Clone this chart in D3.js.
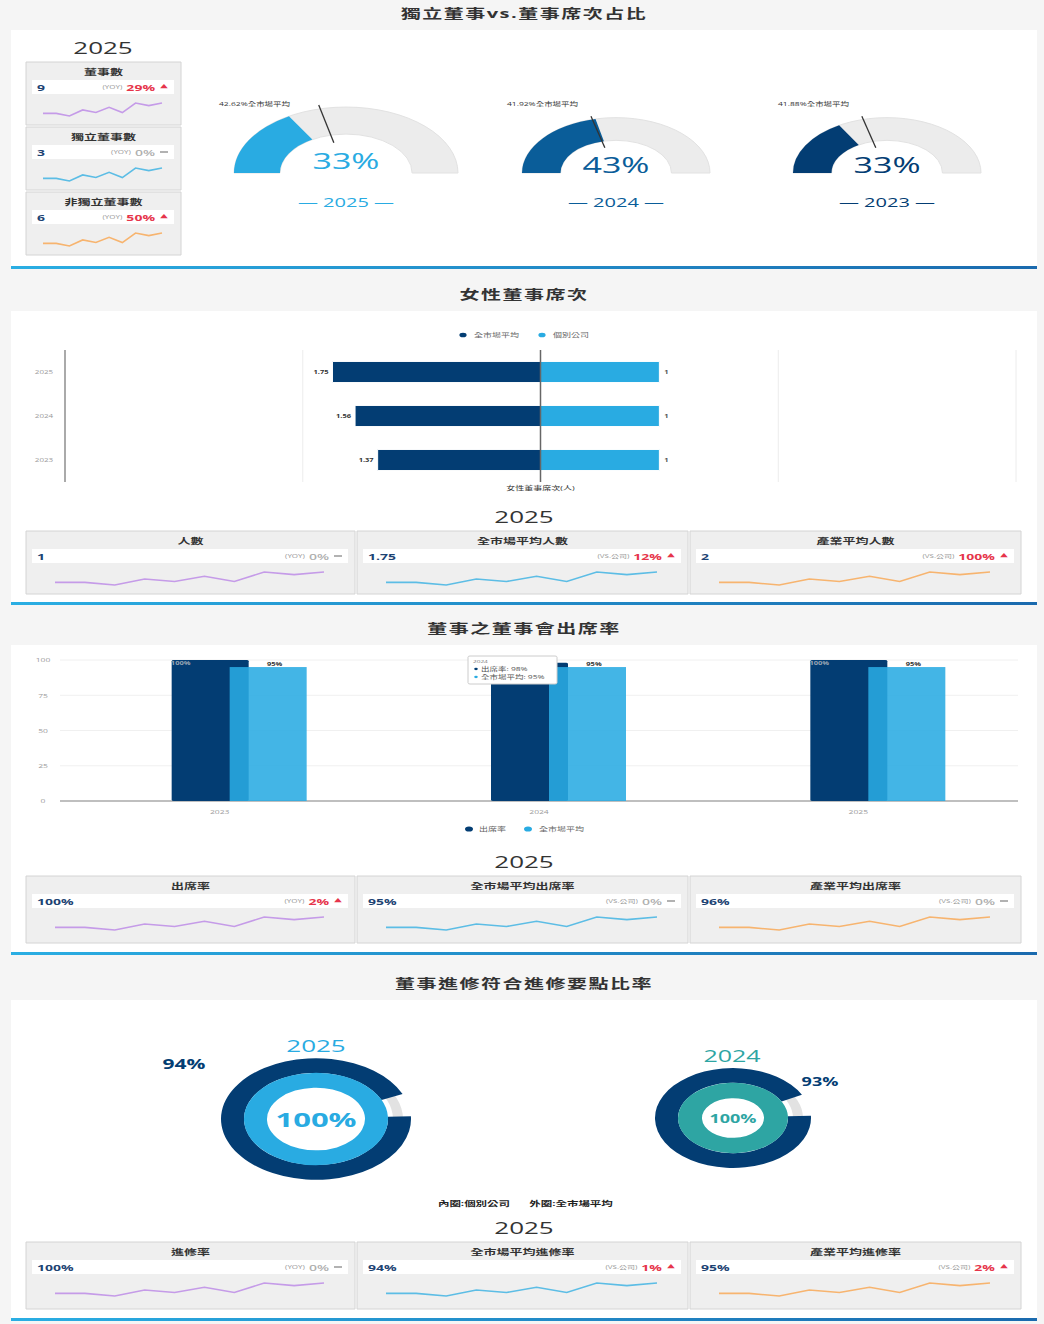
<!DOCTYPE html>
<html>
<head>
<meta charset="utf-8">
<script src="https://cdn.jsdelivr.net/npm/d3@7/dist/d3.min.js"></script>
<style>
  html, body { margin: 0; padding: 0; background: #f5f5f5; }
  svg { display: block; }
</style>
</head>
<body>
<svg id="board"></svg>
<script>
// ---- data ----
const sectionTitles = ['獨立董事vs.董事席次占比', '女性董事席次', '董事之董事會出席率', '董事進修符合進修要點比率']
const trend = [3, 3, 0, 7, 4, 10, 4, 15, 12, 15]
const kpiTags = ['(YOY)', '(VS.公司)', '(VS.公司)']

const boardTitles = ['董事數', '獨立董事數', '非獨立董事數']
const boardValues = ['9', '3', '6']
const boardChanges = [29, 0, 50]

const ratioYears = ['2025', '2024', '2023']
const ratioValues = [33, 43, 33]
const ratioMarket = [42.62, 41.92, 41.88]

const femaleYears = ['2025', '2024', '2023']
const femaleMarket = [1.75, 1.56, 1.37]
const femaleCompany = [1, 1, 1]
const femaleTicks = [-4, -2, 0, 2, 4]
const femaleKpiTitles = ['人數', '全市場平均人數', '產業平均人數']
const femaleKpiValues = ['1', '1.75', '2']
const femaleKpiChanges = [0, 12, 100]

const attendYears = ['2023', '2024', '2025']
const attendCompany = [100, 98, 100]
const attendMarket = [95, 95, 95]
const attendTicks = [0, 25, 50, 75, 100]
const attendKpiTitles = ['出席率', '全市場平均出席率', '產業平均出席率']
const attendKpiValues = ['100%', '95%', '96%']
const attendKpiChanges = [2, 0, 0]
const tipYear = '2024'

const trainYears = ['2025', '2024']
const trainCompany = [100, 100]
const trainMarket = [94, 93]
const trainKpiTitles = ['進修率', '全市場平均進修率', '產業平均進修率']
const trainKpiValues = ['100%', '94%', '95%']
const trainKpiChanges = [0, 1, 2]

// ---- look ----
const navy = '#033d73', sky = '#29abe2', mid = '#0a5d99', teal = '#2ea5a3', red = '#e6354b'
const sparkColors = ['#c59be8', '#5cbde5', '#f7b46f']

// the picture is squashed vertically, so draw in a taller space and squeeze it
const K = 0.64, W = 1044, H = 1324
const sy = v => v / K

const svg = d3.select('#board').attr('width', W).attr('height', H)
  .attr('viewBox', `0 0 ${W} ${H / K}`).attr('preserveAspectRatio', 'none')
  .style('font-family', '"Open Sans","Noto Sans CJK TC",sans-serif')

const grad = svg.append('defs').append('linearGradient').attr('id', 'sep')
grad.append('stop').attr('offset', '0%').attr('stop-color', '#2aaee3')
grad.append('stop').attr('offset', '100%').attr('stop-color', '#1a6aae')

svg.append('rect').attr('width', W).attr('height', H / K).attr('fill', '#f5f5f5')

function txt(g, x, y, str, size, o = {}) {
  return g.append('text').attr('x', x).attr('y', y).attr('font-size', size)
    .attr('text-anchor', o.anchor || 'middle').attr('dominant-baseline', 'central')
    .attr('font-weight', o.weight || 400).attr('fill', o.fill || '#333')
    .attr('letter-spacing', o.ls || 0).text(str)
}

// section frames
const frames = [[13, 30, 266], [294, 311, 602], [628, 645, 952], [983, 1000, 1318]]
frames.forEach(([ty, top, bot], i) => {
  txt(svg, 524, sy(ty), sectionTitles[i], 20, { weight: 700, ls: 1.5 })
  svg.append('rect').attr('x', 11).attr('y', sy(top)).attr('width', 1026).attr('height', sy(bot - top)).attr('fill', '#fff')
  svg.append('rect').attr('x', 11).attr('y', sy(bot)).attr('width', 1026).attr('height', sy(3)).attr('fill', 'url(#sep)')
})

// year headings
;[[103, 48], [524, 517], [524, 862], [524, 1228]].forEach(([x, y]) => txt(svg, x, sy(y), '2025', 26))

function kpiCard(x, y, w, h, title, value, tag, change, color) {
  const g = svg.append('g')
  g.append('rect').attr('x', x).attr('y', sy(y)).attr('width', w).attr('height', sy(h))
    .attr('fill', '#efefef').attr('stroke', '#d4d4d4').attr('vector-effect', 'non-scaling-stroke')
  txt(g, x + w / 2, sy(y + 9.5), title, 13, { weight: 700 })
  g.append('rect').attr('x', x + 6).attr('y', sy(y + 18)).attr('width', w - 13).attr('height', sy(14)).attr('fill', '#fff')
  txt(g, x + 11, sy(y + 25), value, 14, { anchor: 'start', weight: 700, fill: '#1d4373' })
  const up = change > 0
  const t = g.append('text').attr('x', x + w - 26).attr('y', sy(y + 25))
    .attr('text-anchor', 'end').attr('dominant-baseline', 'central')
  t.append('tspan').attr('font-size', 8).attr('fill', '#999').text(tag)
  t.append('tspan').attr('dx', 4).attr('font-size', 14).attr('font-weight', up ? 700 : 600)
    .attr('fill', up ? red : '#b0b0b0').text(change + '%')
  if (up) txt(g, x + w - 17, sy(y + 24.5), '▲', 8, { fill: red })
  else g.append('line').attr('x1', x + w - 21).attr('x2', x + w - 13).attr('y1', sy(y + 25)).attr('y2', sy(y + 25))
    .attr('stroke', '#999').attr('stroke-width', 1.5).attr('vector-effect', 'non-scaling-stroke')
  const pad = w > 200 ? 29 : 17
  const sx = d3.scaleLinear().domain([0, trend.length - 1]).range([x + pad, x + w - pad - 2])
  const syk = d3.scaleLinear().domain(d3.extent(trend)).range([sy(y + 54), sy(y + 41)])
  g.append('path').datum(trend)
    .attr('d', d3.line().x((d, i) => sx(i)).y(d => syk(d)))
    .attr('fill', 'none').attr('stroke', color).attr('stroke-width', 1.6).attr('vector-effect', 'non-scaling-stroke')
}

// ---- section 1: board cards + gauges ----
boardTitles.forEach((t, i) => kpiCard(26, 62 + i * 65, 155, 63, t, boardValues[i], kpiTags[0], boardChanges[i], sparkColors[i]))

const gaugeX = [346, 616, 887], gaugeR = [112, 94, 94], gaugeColors = [sky, mid, navy], gaugeTextY = [160, 164, 164]
const ang = d3.scaleLinear().domain([0, 100]).range([-Math.PI / 2, Math.PI / 2])
ratioYears.forEach((yr, i) => {
  const ro = gaugeR[i], ri = ro * 0.59
  const g = svg.append('g').attr('transform', `translate(${gaugeX[i]},${sy(173)}) scale(1,0.92)`)
  const arc = d3.arc().innerRadius(ri).outerRadius(ro)
  g.append('path').attr('d', arc({ startAngle: -Math.PI / 2, endAngle: Math.PI / 2 }))
    .attr('fill', '#ececec').attr('stroke', '#e2e2e2').attr('vector-effect', 'non-scaling-stroke')
  g.append('path').attr('d', arc({ startAngle: -Math.PI / 2, endAngle: ang(ratioValues[i]) })).attr('fill', gaugeColors[i])
  const a = ang(ratioMarket[i])
  g.append('line')
    .attr('x1', Math.sin(a) * ri * 0.8).attr('y1', -Math.cos(a) * ri * 0.8)
    .attr('x2', Math.sin(a) * ro * 1.06).attr('y2', -Math.cos(a) * ro * 1.06)
    .attr('stroke', '#333').attr('stroke-width', 1.3).attr('vector-effect', 'non-scaling-stroke')
  txt(svg, gaugeX[i] - ro - 15, sy(104), ratioMarket[i] + '%全市場平均', 8.5, { anchor: 'start' })
  txt(svg, gaugeX[i], sy(gaugeTextY[i]), ratioValues[i] + '%', 34, { fill: gaugeColors[i] })
  txt(svg, gaugeX[i], sy(202), '— ' + yr + ' —', 20, { fill: gaugeColors[i] })
})

// ---- section 2: female seats ----
const fx = d3.scaleLinear().domain([-4, 4]).range([65, 1016])
const fy = d3.scaleBand().domain(femaleYears).range([sy(350), sy(482)]).paddingInner(0.52).paddingOuter(0.26)
const fg = svg.append('g')
femaleTicks.forEach(t => {
  fg.append('line').attr('x1', fx(t)).attr('x2', fx(t)).attr('y1', sy(350)).attr('y2', sy(482))
    .attr('stroke', t === -4 ? '#aaa' : '#ececec').attr('stroke-width', t === -4 ? 2 : 1)
    .attr('vector-effect', 'non-scaling-stroke')
})
femaleYears.forEach((yr, i) => {
  const y = fy(yr), bh = fy.bandwidth()
  fg.append('rect').attr('x', fx(-femaleMarket[i])).attr('y', y).attr('width', fx(0) - fx(-femaleMarket[i])).attr('height', bh)
    .attr('fill', navy).attr('stroke', '#fff').attr('stroke-width', 1).attr('vector-effect', 'non-scaling-stroke')
  fg.append('rect').attr('x', fx(0)).attr('y', y).attr('width', fx(femaleCompany[i]) - fx(0)).attr('height', bh)
    .attr('fill', sky).attr('stroke', '#fff').attr('stroke-width', 1).attr('vector-effect', 'non-scaling-stroke')
  txt(fg, fx(-femaleMarket[i]) - 4, y + bh / 2, femaleMarket[i], 7.5, { anchor: 'end', weight: 700 })
  txt(fg, fx(femaleCompany[i]) + 5, y + bh / 2, femaleCompany[i], 7.5, { anchor: 'start', weight: 700, fill: '#555' })
  txt(fg, 44, y + bh / 2, yr, 8, { fill: '#999' })
})
fg.append('line').attr('x1', fx(0)).attr('x2', fx(0)).attr('y1', sy(350)).attr('y2', sy(482))
  .attr('stroke', '#666').attr('stroke-width', 1.5).attr('vector-effect', 'non-scaling-stroke')
txt(fg, fx(0), sy(488), '女性董事席次(人)', 9)
fg.append('circle').attr('cx', 463).attr('cy', sy(335)).attr('r', 3.6).attr('fill', navy)
txt(fg, 474, sy(335), '全市場平均', 9, { anchor: 'start', fill: '#666' })
fg.append('circle').attr('cx', 542).attr('cy', sy(335)).attr('r', 3.6).attr('fill', sky)
txt(fg, 553, sy(335), '個別公司', 9, { anchor: 'start', fill: '#666' })

const cardX = [26, 357, 690], cardW = [329, 331, 331]
femaleKpiTitles.forEach((t, i) => kpiCard(cardX[i], 531, cardW[i], 63, t, femaleKpiValues[i], kpiTags[i], femaleKpiChanges[i], sparkColors[i]))

// ---- section 3: attendance ----
const ax = d3.scaleBand().domain(attendYears).range([60, 1018])
const ay = d3.scaleLinear().domain([0, 100]).range([sy(801), sy(660)])
const ag = svg.append('g')
attendTicks.forEach(t => {
  ag.append('line').attr('x1', 60).attr('x2', 1018).attr('y1', ay(t)).attr('y2', ay(t))
    .attr('stroke', t === 0 ? '#aaa' : '#f0f0f0').attr('stroke-width', t === 0 ? 1.5 : 1)
    .attr('vector-effect', 'non-scaling-stroke')
  txt(ag, 43, ay(t), t, 8.5, { fill: '#999' })
})
attendYears.forEach((yr, i) => {
  const c = ax(yr) + ax.bandwidth() / 2
  ag.append('rect').attr('x', c - 48).attr('y', ay(attendCompany[i])).attr('width', 77)
    .attr('height', ay(0) - ay(attendCompany[i])).attr('fill', navy).attr('rx', 2)
  ag.append('rect').attr('x', c + 10).attr('y', ay(attendMarket[i])).attr('width', 77)
    .attr('height', ay(0) - ay(attendMarket[i])).attr('fill', sky).attr('opacity', 0.88)
  // the tooltip sits over this label for the hovered year
  if (yr !== tipYear) txt(ag, c - 39, ay(attendCompany[i]) + sy(3), attendCompany[i] + '%', 7.5, { weight: 700, fill: '#9aa6b4' })
  txt(ag, c + 55, ay(attendMarket[i]) - sy(3), attendMarket[i] + '%', 7.5, { weight: 700, fill: '#333' })
  txt(ag, c, sy(812), yr, 8.5, { fill: '#999' })
})
// hover tooltip
const ti = attendYears.indexOf(tipYear)
const tip = ag.append('g')
tip.append('rect').attr('x', 468).attr('y', sy(656)).attr('width', 89).attr('height', sy(28))
  .attr('fill', '#fff').attr('stroke', '#ccc').attr('vector-effect', 'non-scaling-stroke').attr('rx', 2)
txt(tip, 473, sy(661.5), tipYear, 6.5, { anchor: 'start', fill: '#777' })
tip.append('circle').attr('cx', 476).attr('cy', sy(669)).attr('r', 1.8).attr('fill', navy)
txt(tip, 481, sy(669), '出席率: ' + attendCompany[ti] + '%', 8.5, { anchor: 'start', fill: '#555' })
tip.append('circle').attr('cx', 476).attr('cy', sy(677)).attr('r', 1.8).attr('fill', sky)
txt(tip, 481, sy(677), '全市場平均: ' + attendMarket[ti] + '%', 8.5, { anchor: 'start', fill: '#555' })
ag.append('circle').attr('cx', 469).attr('cy', sy(829)).attr('r', 4).attr('fill', navy)
txt(ag, 479, sy(829), '出席率', 9, { anchor: 'start', fill: '#666' })
ag.append('circle').attr('cx', 528).attr('cy', sy(829)).attr('r', 4).attr('fill', sky)
txt(ag, 539, sy(829), '全市場平均', 9, { anchor: 'start', fill: '#666' })

attendKpiTitles.forEach((t, i) => kpiCard(cardX[i], 876, cardW[i], 67, t, attendKpiValues[i], kpiTags[i], attendKpiChanges[i], sparkColors[i]))

// ---- section 4: training donuts ----
const donutX = [316, 733], donutY = [1119, 1118], donutR = [95, 78], donutRing = [[72, 49], [55, 31]]
const innerColors = [sky, teal], centerSize = [31, 18]
const yearPos = [[316, 1046, 26], [732, 1056, 25]], mktPos = [[184, 1064, 21], [820, 1081, 18]]
const start = Math.PI * 0.485
trainYears.forEach((yr, i) => {
  const g = svg.append('g').attr('transform', `translate(${donutX[i]},${sy(donutY[i])})`)
  const R = donutR[i], [r0, r1] = donutRing[i]
  const turn = d3.scaleLinear().domain([0, 100]).range([start, start + 2 * Math.PI])
  g.append('path').attr('d', d3.arc().innerRadius(r0 + 5).outerRadius(R - 8)({ startAngle: 0, endAngle: 2 * Math.PI })).attr('fill', '#e2e2e2')
  g.append('path').attr('d', d3.arc().innerRadius(r0).outerRadius(R)({ startAngle: turn(0), endAngle: turn(trainMarket[i]) })).attr('fill', navy)
  g.append('path').attr('d', d3.arc().innerRadius(r1).outerRadius(r0)({ startAngle: turn(0), endAngle: turn(trainCompany[i]) })).attr('fill', innerColors[i])
  txt(g, 0, 0, trainCompany[i] + '%', centerSize[i], { weight: 700, fill: innerColors[i] })
  txt(svg, yearPos[i][0], sy(yearPos[i][1]), yr, yearPos[i][2], { fill: innerColors[i] })
  txt(svg, mktPos[i][0], sy(mktPos[i][1]), trainMarket[i] + '%', mktPos[i][2], { weight: 700, fill: navy })
})
txt(svg, 474, sy(1203), '內圈:個別公司', 11.5, { weight: 700, fill: '#222' })
txt(svg, 571, sy(1203), '外圈:全市場平均', 11.5, { weight: 700, fill: '#222' })

trainKpiTitles.forEach((t, i) => kpiCard(cardX[i], 1242, cardW[i], 67, t, trainKpiValues[i], kpiTags[i], trainKpiChanges[i], sparkColors[i]))
</script>
</body>
</html>
